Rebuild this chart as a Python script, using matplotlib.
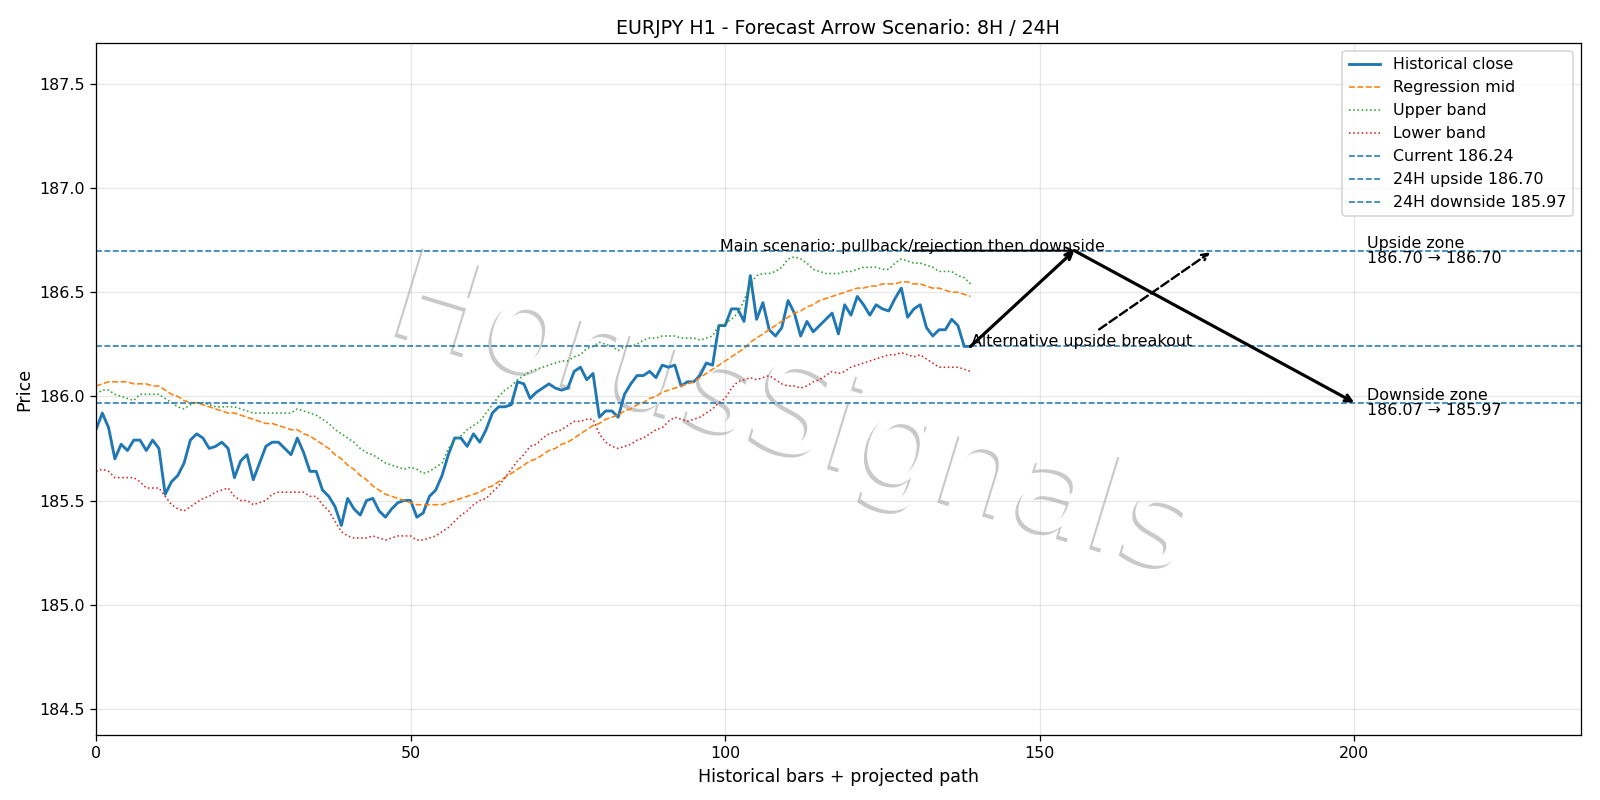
import matplotlib
matplotlib.use("Agg")
import matplotlib.pyplot as plt
import matplotlib.patheffects as pe
import numpy as np

close = [185.84, 185.92, 185.85, 185.70, 185.77, 185.74, 185.79, 185.79, 185.74, 185.79,
         185.75, 185.53, 185.59, 185.62, 185.68, 185.79, 185.82, 185.80, 185.75, 185.76,
         185.78, 185.75, 185.61, 185.69, 185.72, 185.60, 185.68, 185.76, 185.78, 185.78,
         185.75, 185.72, 185.80, 185.73, 185.64, 185.64, 185.55, 185.52, 185.47, 185.38,
         185.51, 185.46, 185.43, 185.50, 185.51, 185.45, 185.42, 185.46, 185.49, 185.50,
         185.50, 185.42, 185.44, 185.52, 185.55, 185.62, 185.72, 185.80, 185.80, 185.76,
         185.82, 185.78, 185.84, 185.92, 185.95, 185.95, 185.96, 186.07, 186.06, 185.99,
         186.02, 186.04, 186.06, 186.04, 186.03, 186.04, 186.12, 186.14, 186.08, 186.11,
         185.90, 185.93, 185.93, 185.90, 186.01, 186.06, 186.10, 186.10, 186.12, 186.09,
         186.15, 186.14, 186.15, 186.05, 186.07, 186.07, 186.10, 186.16, 186.15, 186.34,
         186.34, 186.42, 186.42, 186.36, 186.58, 186.37, 186.45, 186.32, 186.29, 186.33,
         186.46, 186.40, 186.29, 186.36, 186.31, 186.34, 186.37, 186.40, 186.30, 186.44,
         186.39, 186.48, 186.44, 186.39, 186.44, 186.42, 186.41, 186.47, 186.52, 186.38,
         186.42, 186.44, 186.33, 186.29, 186.32, 186.32, 186.37, 186.34, 186.24, 186.24]

mid = [186.05, 186.06, 186.07, 186.07, 186.07, 186.07, 186.06, 186.06, 186.06, 186.05,
       186.05, 186.03, 186.01, 186.00, 185.98, 185.97, 185.97, 185.96, 185.95, 185.94,
       185.93, 185.92, 185.92, 185.91, 185.90, 185.89, 185.88, 185.87, 185.87, 185.86,
       185.85, 185.84, 185.84, 185.82, 185.81, 185.79, 185.77, 185.75, 185.72, 185.70,
       185.67, 185.65, 185.62, 185.60, 185.57, 185.55, 185.53, 185.52, 185.51, 185.50,
       185.49, 185.48, 185.48, 185.48, 185.48, 185.48, 185.49, 185.50, 185.51, 185.52,
       185.53, 185.54, 185.56, 185.57, 185.59, 185.61, 185.63, 185.65, 185.67, 185.69,
       185.70, 185.72, 185.74, 185.75, 185.77, 185.78, 185.80, 185.82, 185.84, 185.86,
       185.87, 185.89, 185.90, 185.91, 185.93, 185.94, 185.96, 185.97, 185.99, 186.00,
       186.02, 186.03, 186.04, 186.05, 186.06, 186.07, 186.09, 186.11, 186.13, 186.15,
       186.17, 186.19, 186.21, 186.23, 186.26, 186.28, 186.30, 186.32, 186.34, 186.36,
       186.38, 186.40, 186.41, 186.43, 186.44, 186.46, 186.47, 186.48, 186.49, 186.50,
       186.51, 186.52, 186.52, 186.53, 186.53, 186.54, 186.54, 186.54, 186.55, 186.55,
       186.54, 186.54, 186.53, 186.52, 186.52, 186.51, 186.50, 186.50, 186.49, 186.48]

upper = [186.01, 186.03, 186.03, 186.01, 186.00, 185.99, 185.98, 186.01, 186.01, 186.01,
         186.01, 185.99, 185.97, 185.95, 185.94, 185.96, 185.97, 185.97, 185.96, 185.95,
         185.95, 185.95, 185.95, 185.94, 185.93, 185.92, 185.92, 185.92, 185.92, 185.92,
         185.92, 185.92, 185.94, 185.93, 185.92, 185.91, 185.89, 185.87, 185.84, 185.82,
         185.80, 185.78, 185.75, 185.73, 185.72, 185.70, 185.68, 185.67, 185.66, 185.65,
         185.66, 185.65, 185.63, 185.64, 185.66, 185.68, 185.75, 185.79, 185.81, 185.84,
         185.86, 185.88, 185.92, 185.96, 186.00, 186.03, 186.05, 186.08, 186.10, 186.12,
         186.13, 186.14, 186.15, 186.16, 186.17, 186.17, 186.19, 186.20, 186.23, 186.24,
         186.26, 186.25, 186.24, 186.22, 186.24, 186.24, 186.25, 186.27, 186.28, 186.28,
         186.29, 186.29, 186.29, 186.28, 186.28, 186.28, 186.27, 186.28, 186.29, 186.34,
         186.35, 186.37, 186.40, 186.46, 186.54, 186.58, 186.59, 186.59, 186.60, 186.62,
         186.66, 186.67, 186.66, 186.64, 186.61, 186.60, 186.59, 186.59, 186.59, 186.60,
         186.60, 186.61, 186.62, 186.62, 186.62, 186.61, 186.61, 186.64, 186.66, 186.65,
         186.64, 186.64, 186.63, 186.62, 186.60, 186.60, 186.60, 186.58, 186.57, 186.54]

lower = [185.64, 185.65, 185.64, 185.61, 185.61, 185.61, 185.61, 185.59, 185.56, 185.56,
         185.56, 185.52, 185.48, 185.46, 185.45, 185.47, 185.49, 185.51, 185.52, 185.54,
         185.55, 185.56, 185.52, 185.50, 185.50, 185.48, 185.49, 185.50, 185.53, 185.54,
         185.54, 185.54, 185.54, 185.54, 185.52, 185.52, 185.48, 185.45, 185.40, 185.35,
         185.33, 185.32, 185.32, 185.32, 185.33, 185.32, 185.31, 185.32, 185.33, 185.33,
         185.33, 185.31, 185.31, 185.32, 185.33, 185.35, 185.37, 185.40, 185.43, 185.45,
         185.48, 185.50, 185.51, 185.54, 185.57, 185.61, 185.65, 185.69, 185.72, 185.76,
         185.77, 185.80, 185.82, 185.83, 185.84, 185.86, 185.88, 185.88, 185.89, 185.89,
         185.82, 185.78, 185.76, 185.75, 185.76, 185.77, 185.79, 185.80, 185.82, 185.84,
         185.85, 185.88, 185.90, 185.89, 185.88, 185.89, 185.90, 185.92, 185.94, 185.97,
         185.99, 186.04, 186.07, 186.08, 186.09, 186.08, 186.09, 186.10, 186.08, 186.06,
         186.05, 186.05, 186.04, 186.05, 186.07, 186.08, 186.10, 186.12, 186.11, 186.12,
         186.14, 186.15, 186.16, 186.17, 186.18, 186.19, 186.20, 186.20, 186.21, 186.20,
         186.19, 186.20, 186.18, 186.16, 186.14, 186.14, 186.14, 186.14, 186.13, 186.12]

current = 186.24
up_target = 186.70
down_target = 185.97
down_zone_start = 186.07
peak_x = 155.5
alt_x = 177.5
end_x = 200.0
zone_x = 202.0
main_text_x = 129.8

x = np.arange(len(close))
last_x = x[-1]

fig = plt.figure(figsize=(14, 7), dpi=1600 / 14)
ax = fig.add_axes([0.06, 0.081, 0.928, 0.865])

ax.text(0.495, 0.478, "HorusSignals", transform=fig.transFigure, fontsize=80, rotation=-17,
        ha="center", va="center", color="white", zorder=1,
        path_effects=[pe.withSimplePatchShadow(offset=(-2, -2))])

ax.plot(x, close, color="#1f77b4", lw=1.8, label="Historical close")
ax.plot(x, mid, color="#ff7f0e", ls="--", lw=1.0, label="Regression mid")
ax.plot(x, upper, color="#2ca02c", ls=":", lw=1.0, label="Upper band")
ax.plot(x, lower, color="#d62728", ls=":", lw=1.0, label="Lower band")
ax.axhline(current, color="#1f77b4", ls="--", lw=1.0, label=f"Current {current:.2f}")
ax.axhline(up_target, color="#1f77b4", ls="--", lw=1.0, label=f"24H upside {up_target:.2f}")
ax.axhline(down_target, color="#1f77b4", ls="--", lw=1.0, label=f"24H downside {down_target:.2f}")

# main scenario path
ax.annotate("", xy=(peak_x, up_target), xytext=(last_x, current),
            arrowprops=dict(arrowstyle="->", lw=2, color="black", shrinkA=0, shrinkB=0))
ax.annotate("", xy=(end_x, down_target), xytext=(peak_x, up_target),
            arrowprops=dict(arrowstyle="->", lw=2, color="black", shrinkA=0, shrinkB=0))
ax.text(main_text_x, up_target, "Main scenario: pullback/rejection then downside",
        ha="center", va="baseline")
ax.annotate("", xy=(peak_x, up_target), xytext=(main_text_x, up_target),
            arrowprops=dict(arrowstyle="->", lw=1.2, color="black", shrinkA=0, shrinkB=0))
ax.annotate("Alternative upside breakout", xy=(alt_x, up_target), xytext=(last_x, current),
            arrowprops=dict(arrowstyle="->", lw=1.5, ls="--", color="black"))

ax.text(zone_x, up_target, f"Upside zone\n{up_target:.2f} \u2192 {up_target:.2f}",
        ha="left", va="center", linespacing=1.0)
ax.text(zone_x, down_target, f"Downside zone\n{down_zone_start:.2f} \u2192 {down_target:.2f}",
        ha="left", va="center", linespacing=1.0)

ax.set_xlim(0, 236)
ax.set_ylim(184.373, 187.696)
ax.grid(True, alpha=0.3)
ax.set_title("EURJPY H1 - Forecast Arrow Scenario: 8H / 24H", fontsize=12)
ax.set_xlabel("Historical bars + projected path", fontsize=11)
ax.set_ylabel("Price", fontsize=11)
ax.legend(loc="upper right")

fig.savefig("out.png", dpi=1600 / 14)
